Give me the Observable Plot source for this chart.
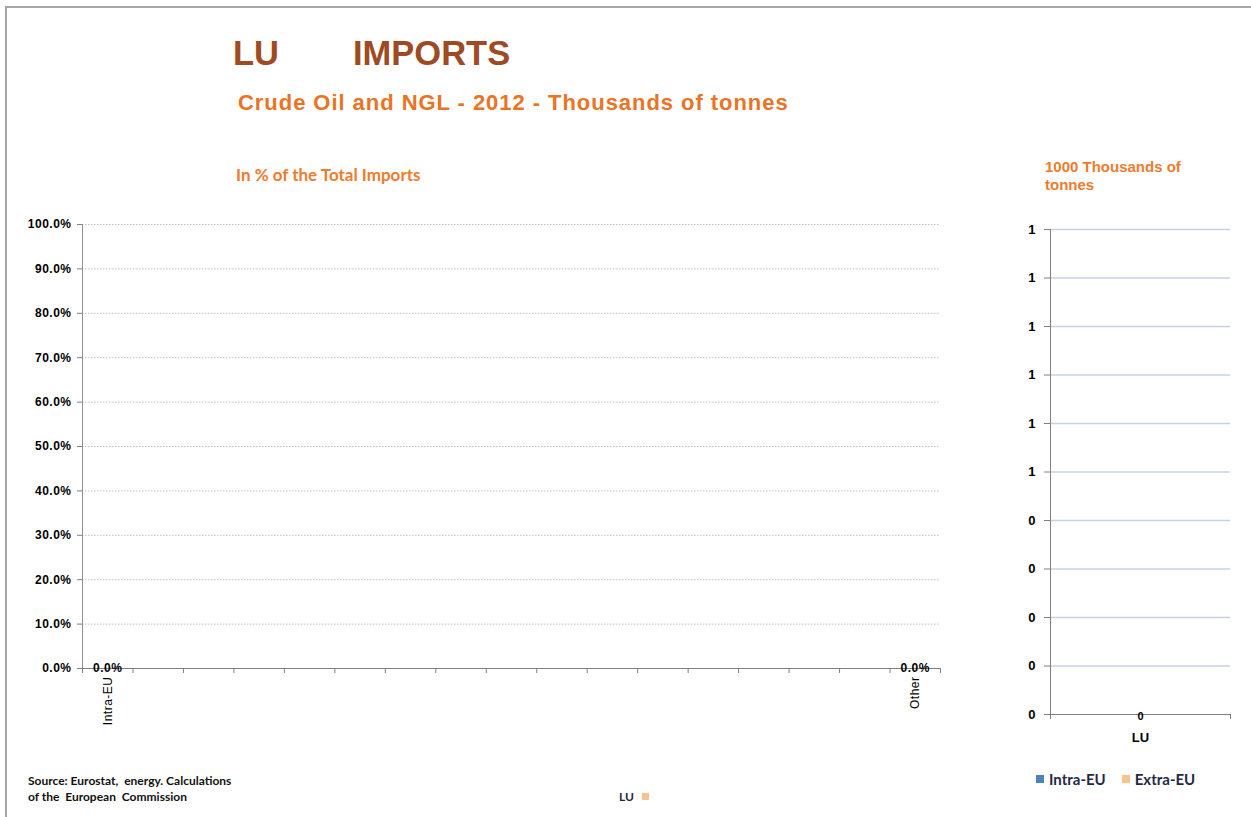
<!DOCTYPE html>
<html>
<head>
<meta charset="utf-8">
<script src="https://cdn.jsdelivr.net/npm/d3@7"></script>
<script src="https://cdn.jsdelivr.net/npm/@observablehq/plot@0.6"></script>
<style>
  html, body { margin: 0; padding: 0; background: #fff; }
  #page { position: relative; width: 1251px; height: 817px; overflow: hidden; background: #fff; font-family: "Liberation Sans", Arial, sans-serif; }
  #frame { position: absolute; left: 5px; top: 6px; width: 1244px; height: 830px; border-top: 2px solid #a6a6a6; border-left: 2px solid #a6a6a6; border-right: 1px solid #c8c8c8; }
  .abs { position: absolute; white-space: nowrap; }
  #t1 { left: 233px; top: 34px; font: bold 34.5px "Liberation Sans", Arial, sans-serif; color: #9e4b23; }
  #t2 { left: 353px; top: 34px; font: bold 34.5px "Liberation Sans", Arial, sans-serif; color: #9e4b23; }
  #sub { left: 238px; top: 90px; font: bold 22px "Liberation Sans", Arial, sans-serif; color: #ea7324; letter-spacing: 0.95px; }
  #lt { left: 236px; top: 164px; font: bold 17px Lato, "Open Sans", sans-serif; color: #ef7b2c; }
  #rt { left: 1045px; top: 158px; font: bold 15px "Liberation Sans", Arial, sans-serif; color: #ef7b2c; line-height: 18px; }
  #src { left: 28px; top: 773px; font: bold 12px Lato, "Open Sans", sans-serif; color: #111; line-height: 16px; }
  #leftPlot { left: 0px; top: 200px; }
  #rightPlot { left: 1000px; top: 200px; }
  .leg { font: bold 15px Lato, "Open Sans", sans-serif; color: #1f2a44; display: flex; align-items: center; }
  .sw { display: inline-block; width: 8px; height: 8px; margin-right: 5px; }
</style>
</head>
<body>
<div id="page">
  <div id="frame"></div>
  <div class="abs" id="t1">LU</div>
  <div class="abs" id="t2">IMPORTS</div>
  <div class="abs" id="sub">Crude Oil and NGL - 2012 - Thousands of tonnes</div>
  <div class="abs" id="lt">In % of the Total Imports</div>
  <div class="abs" id="rt">1000 Thousands of<br>tonnes</div>
  <div class="abs" id="leftPlot"></div>
  <div class="abs" id="rightPlot"></div>
  <div class="abs" id="src">Source: Eurostat,&nbsp; energy. Calculations<br>of the&nbsp; European&nbsp; Commission</div>
  <div class="abs leg" id="legL" style="left:619px; top:789px;"></div>
  <div class="abs leg" id="legR" style="left:1036px; top:770px;"></div>
</div>
<script>
// ---- Data ----
// Left chart: share of total imports by origin (17 category slots; only the first and last are labelled)
const shareCategories = ["Intra-EU", "", "", "", "", "", "", "", "", "", "", "", "", "", "", "", "Other"];
const shareValues     = [0, null, null, null, null, null, null, null, null, null, null, null, null, null, null, null, 0];
const shareLabels     = ["0.0%", "", "", "", "", "", "", "", "", "", "", "", "", "", "", "", "0.0%"];
const shareTicks      = [0, 0.1, 0.2, 0.3, 0.4, 0.5, 0.6, 0.7, 0.8, 0.9, 1.0];

// Right chart: imports in 1000 thousands of tonnes, stacked Intra-EU / Extra-EU
const volCountries = ["LU"];
const volIntraEU   = [0];
const volExtraEU   = [0];
const volTotalLbl  = ["0"];
const volTicks     = [0, 0.1, 0.2, 0.3, 0.4, 0.5, 0.6, 0.7, 0.8, 0.9, 1.0];

const seriesNames  = ["Intra-EU", "Extra-EU"];
const seriesColors = ["#4f81bd", "#fac090"];
const legendLeft   = ["LU"];

// ---- Left plot ----
const shareRows = shareCategories.map((c, i) => ({i, cat: c, v: shareValues[i], lbl: shareLabels[i]}));

const left = Plot.plot({
  width: 960, height: 540,
  marginLeft: 82, marginRight: 20, marginTop: 24, marginBottom: 72,
  style: {font: "bold 12px 'Liberation Sans', Arial, sans-serif", color: "#000", background: "transparent", letterSpacing: "0.5px", overflow: "visible"},
  x: {type: "linear", domain: [0, shareCategories.length], axis: null},
  y: {type: "linear", domain: [0, 1], axis: null},
  marks: [
    Plot.ruleY(shareTicks.filter(d => d > 0), {stroke: "#b4c2d8", strokeDasharray: "1.5,1.5", strokeWidth: 1}),
    Plot.rectY(shareRows.filter(d => d.v != null), {x1: d => d.i + 0.2, x2: d => d.i + 0.8, y: "v", fill: seriesColors[0]}),
    Plot.axisY({ticks: shareTicks, tickFormat: d => (d * 100).toFixed(1) + "%", tickSize: 5, tickPadding: 6, label: null, stroke: "#808080"}),
    Plot.ruleX([0], {stroke: "#909090"}),
    Plot.axisX({ticks: d3.range(0, shareCategories.length + 1), tickFormat: () => "", tickSize: 5, label: null, stroke: "#808080"}),
    Plot.ruleY([0], {stroke: "#808080"}),
    Plot.text(shareRows, {x: d => d.i + 0.5, y: 0, text: "cat", rotate: -90, textAnchor: "end", lineAnchor: "middle", dy: 8, fontSize: 12, fontWeight: "normal"}),
    Plot.text(shareRows, {x: d => d.i + 0.5, y: 0, text: "lbl", lineAnchor: "middle", dy: 0, fontSize: 12, fontWeight: "bold"})
  ]
});
document.getElementById("leftPlot").appendChild(left);

// ---- Right plot ----
const volRows = [];
volCountries.forEach((c, i) => {
  volRows.push({cat: c, i, series: seriesNames[0], v: volIntraEU[i]});
  volRows.push({cat: c, i, series: seriesNames[1], v: volExtraEU[i]});
});
const volLabelRows = volCountries.map((c, i) => ({cat: c, i, lbl: volTotalLbl[i]}));

const right = Plot.plot({
  width: 245, height: 560,
  marginLeft: 50, marginRight: 15, marginTop: 29, marginBottom: 46,
  style: {font: "bold 13px 'Liberation Sans', Arial, sans-serif", color: "#000", background: "transparent", overflow: "visible"},
  x: {type: "linear", domain: [0, volCountries.length], axis: null},
  y: {type: "linear", domain: [0, 1], axis: null},
  color: {domain: seriesNames, range: seriesColors},
  marks: [
    Plot.ruleY(volTicks.filter(d => d > 0), {stroke: "#c3d2e8", strokeWidth: 1.5}),
    Plot.rectY(volRows, Plot.stackY({x1: d => d.i + 0.25, x2: d => d.i + 0.75, y: "v", fill: "series"})),
    Plot.axisY({ticks: volTicks, tickFormat: d => d3.format(".0f")(d === 0.5 ? 1 : d), tickSize: 6, tickPadding: 9, label: null, stroke: "#808080"}),
    Plot.ruleX([0], {stroke: "#808080"}),
    Plot.axisX({ticks: d3.range(0, volCountries.length + 1), tickFormat: () => "", tickSize: 5, label: null, stroke: "#808080"}),
    Plot.ruleY([0], {stroke: "#808080"}),
    Plot.text(volLabelRows, {x: d => d.i + 0.5, y: 0, text: "lbl", lineAnchor: "middle", dy: 2, fontSize: 11, fontWeight: "bold"}),
    Plot.text(volLabelRows, {x: d => d.i + 0.5, y: 0, text: "cat", lineAnchor: "middle", dy: 23, fontSize: 13, fontWeight: "bold"})
  ]
});
document.getElementById("rightPlot").appendChild(right);

// ---- Legends ----
const legR = document.getElementById("legR");
seriesNames.forEach((n, i) => {
  const item = document.createElement("span");
  item.style.display = "inline-flex"; item.style.alignItems = "center"; item.style.marginRight = "16px";
  item.innerHTML = `<span class="sw" style="background:${seriesColors[i]}"></span>${n}`;
  legR.appendChild(item);
});
const legL = document.getElementById("legL");
legendLeft.forEach(n => {
  const item = document.createElement("span");
  item.style.display = "inline-flex"; item.style.alignItems = "center"; item.style.fontSize = "12px";
  item.innerHTML = `${n}<span class="sw" style="background:${seriesColors[1]}; width:7px; height:7px; margin-left:8px"></span>`;
  legL.appendChild(item);
});
</script>
</body>
</html>
